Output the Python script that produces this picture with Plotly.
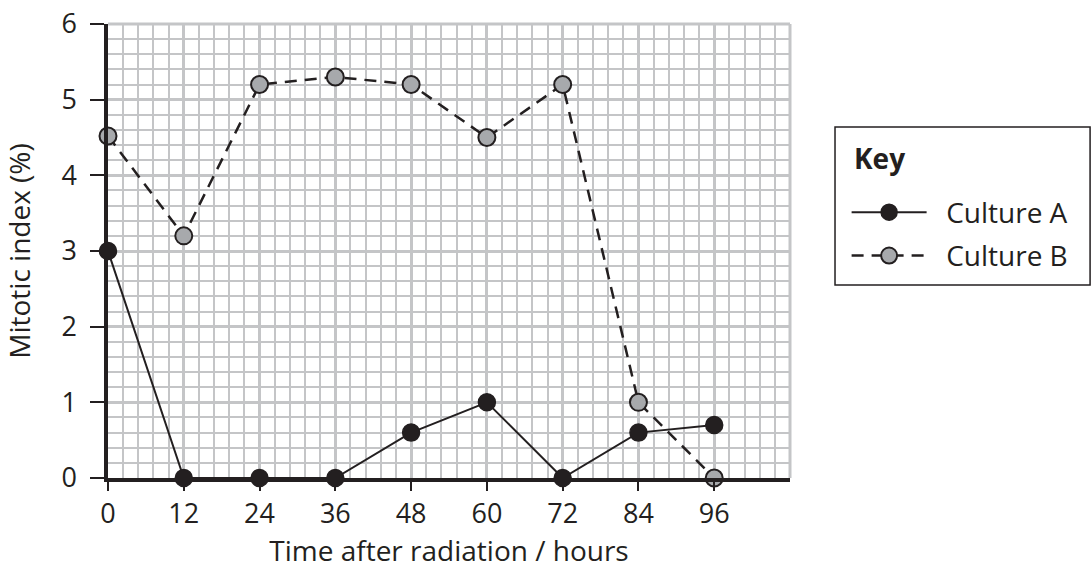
import plotly.graph_objects as go

hours = [0, 12, 24, 36, 48, 60, 72, 84, 96]
culture_a = [3.0, 0.0, 0.0, 0.0, 0.6, 1.0, 0.0, 0.6, 0.7]
culture_b = [4.52, 3.2, 5.2, 5.3, 5.2, 4.5, 5.2, 1.0, 0.0]
x_ticks = [0, 12, 24, 36, 48, 60, 72, 84, 96]
y_ticks = [0, 1, 2, 3, 4, 5, 6]
series_names = ["Culture A", "Culture B"]

FONT = "Open Sans"
INK = "#231f20"
GRID = "#c4c5c7"
NBSP = "\u00a0"

fig = go.Figure()
fig.add_trace(go.Scatter(
    x=hours, y=culture_a, name=NBSP + NBSP + series_names[0], mode="lines+markers",
    legendgroup="a",
    line=dict(color=INK, width=2),
    marker=dict(size=17, color=INK, line=dict(color=INK, width=1.5)),
    cliponaxis=False,
))
fig.add_trace(go.Scatter(
    x=hours, y=culture_b, name=NBSP + NBSP + series_names[1], mode="lines+markers",
    legendgroup="b",
    line=dict(color=INK, width=2.5, dash="12px,8px"),
    marker=dict(size=17, color="#a7a9ac", line=dict(color=INK, width=2)),
    cliponaxis=False,
))

# grey top/right border of the grid
fig.add_shape(type="line", xref="x domain", yref="y domain", x0=1, x1=1, y0=0, y1=1,
              line=dict(color=GRID, width=3), layer="below")
fig.add_shape(type="line", xref="x domain", yref="y domain", x0=0, x1=1, y0=1, y1=1,
              line=dict(color=GRID, width=3), layer="below")
# key box and heading
fig.add_shape(type="rect", xref="paper", yref="paper", x0=1.066, x1=1.440, y0=0.425, y1=0.773,
              line=dict(color=INK, width=1.5), fillcolor="rgba(0,0,0,0)")
fig.add_annotation(text="<b>Key</b>", xref="paper", yref="paper", x=1.091, y=0.705,
                   xanchor="left", yanchor="middle", showarrow=False,
                   font=dict(family=FONT, size=28, color=INK))

fig.update_layout(
    width=1092, height=569,
    margin=dict(l=108, r=302, t=24, b=91),
    paper_bgcolor="white", plot_bgcolor="white",
    font=dict(family=FONT, size=28, color=INK),
    showlegend=True,
    legend=dict(
        x=1.083, y=0.64, xanchor="left", yanchor="top",
        borderwidth=0, bgcolor="rgba(0,0,0,0)",
        itemwidth=75, tracegroupgap=4, traceorder="grouped",
        font=dict(family=FONT, size=28),
    ),
    xaxis=dict(
        range=[0, 108], tickvals=x_ticks,
        showgrid=True, gridcolor=GRID, gridwidth=3,
        minor=dict(dtick=2.4, tick0=0, showgrid=True, gridcolor=GRID, gridwidth=1.5),
        showline=True, linecolor=INK, linewidth=3.5,
        ticks="outside", ticklen=9, tickwidth=2, tickcolor=INK,
        tickfont=dict(size=27), ticklabeloverflow="allow",
        zeroline=False, automargin=False,
        title=dict(text="Time after radiation / hours", standoff=14, font=dict(size=28)),
    ),
    yaxis=dict(
        range=[0, 6], tickvals=y_ticks,
        showgrid=True, gridcolor=GRID, gridwidth=3,
        minor=dict(dtick=0.2, tick0=0, showgrid=True, gridcolor=GRID, gridwidth=1.5),
        showline=True, linecolor=INK, linewidth=3.5,
        ticks="outside", ticklen=14, tickwidth=2, tickcolor=INK,
        tickfont=dict(size=27), ticklabeloverflow="allow", ticklabelstandoff=8,
        zeroline=False, automargin=False,
        title=dict(text="Mitotic index (%)", standoff=24, font=dict(size=28)),
    ),
)

fig.write_html("out.html", config={"displayModeBar": False},
               post_script="document.body.style.margin='0';")
